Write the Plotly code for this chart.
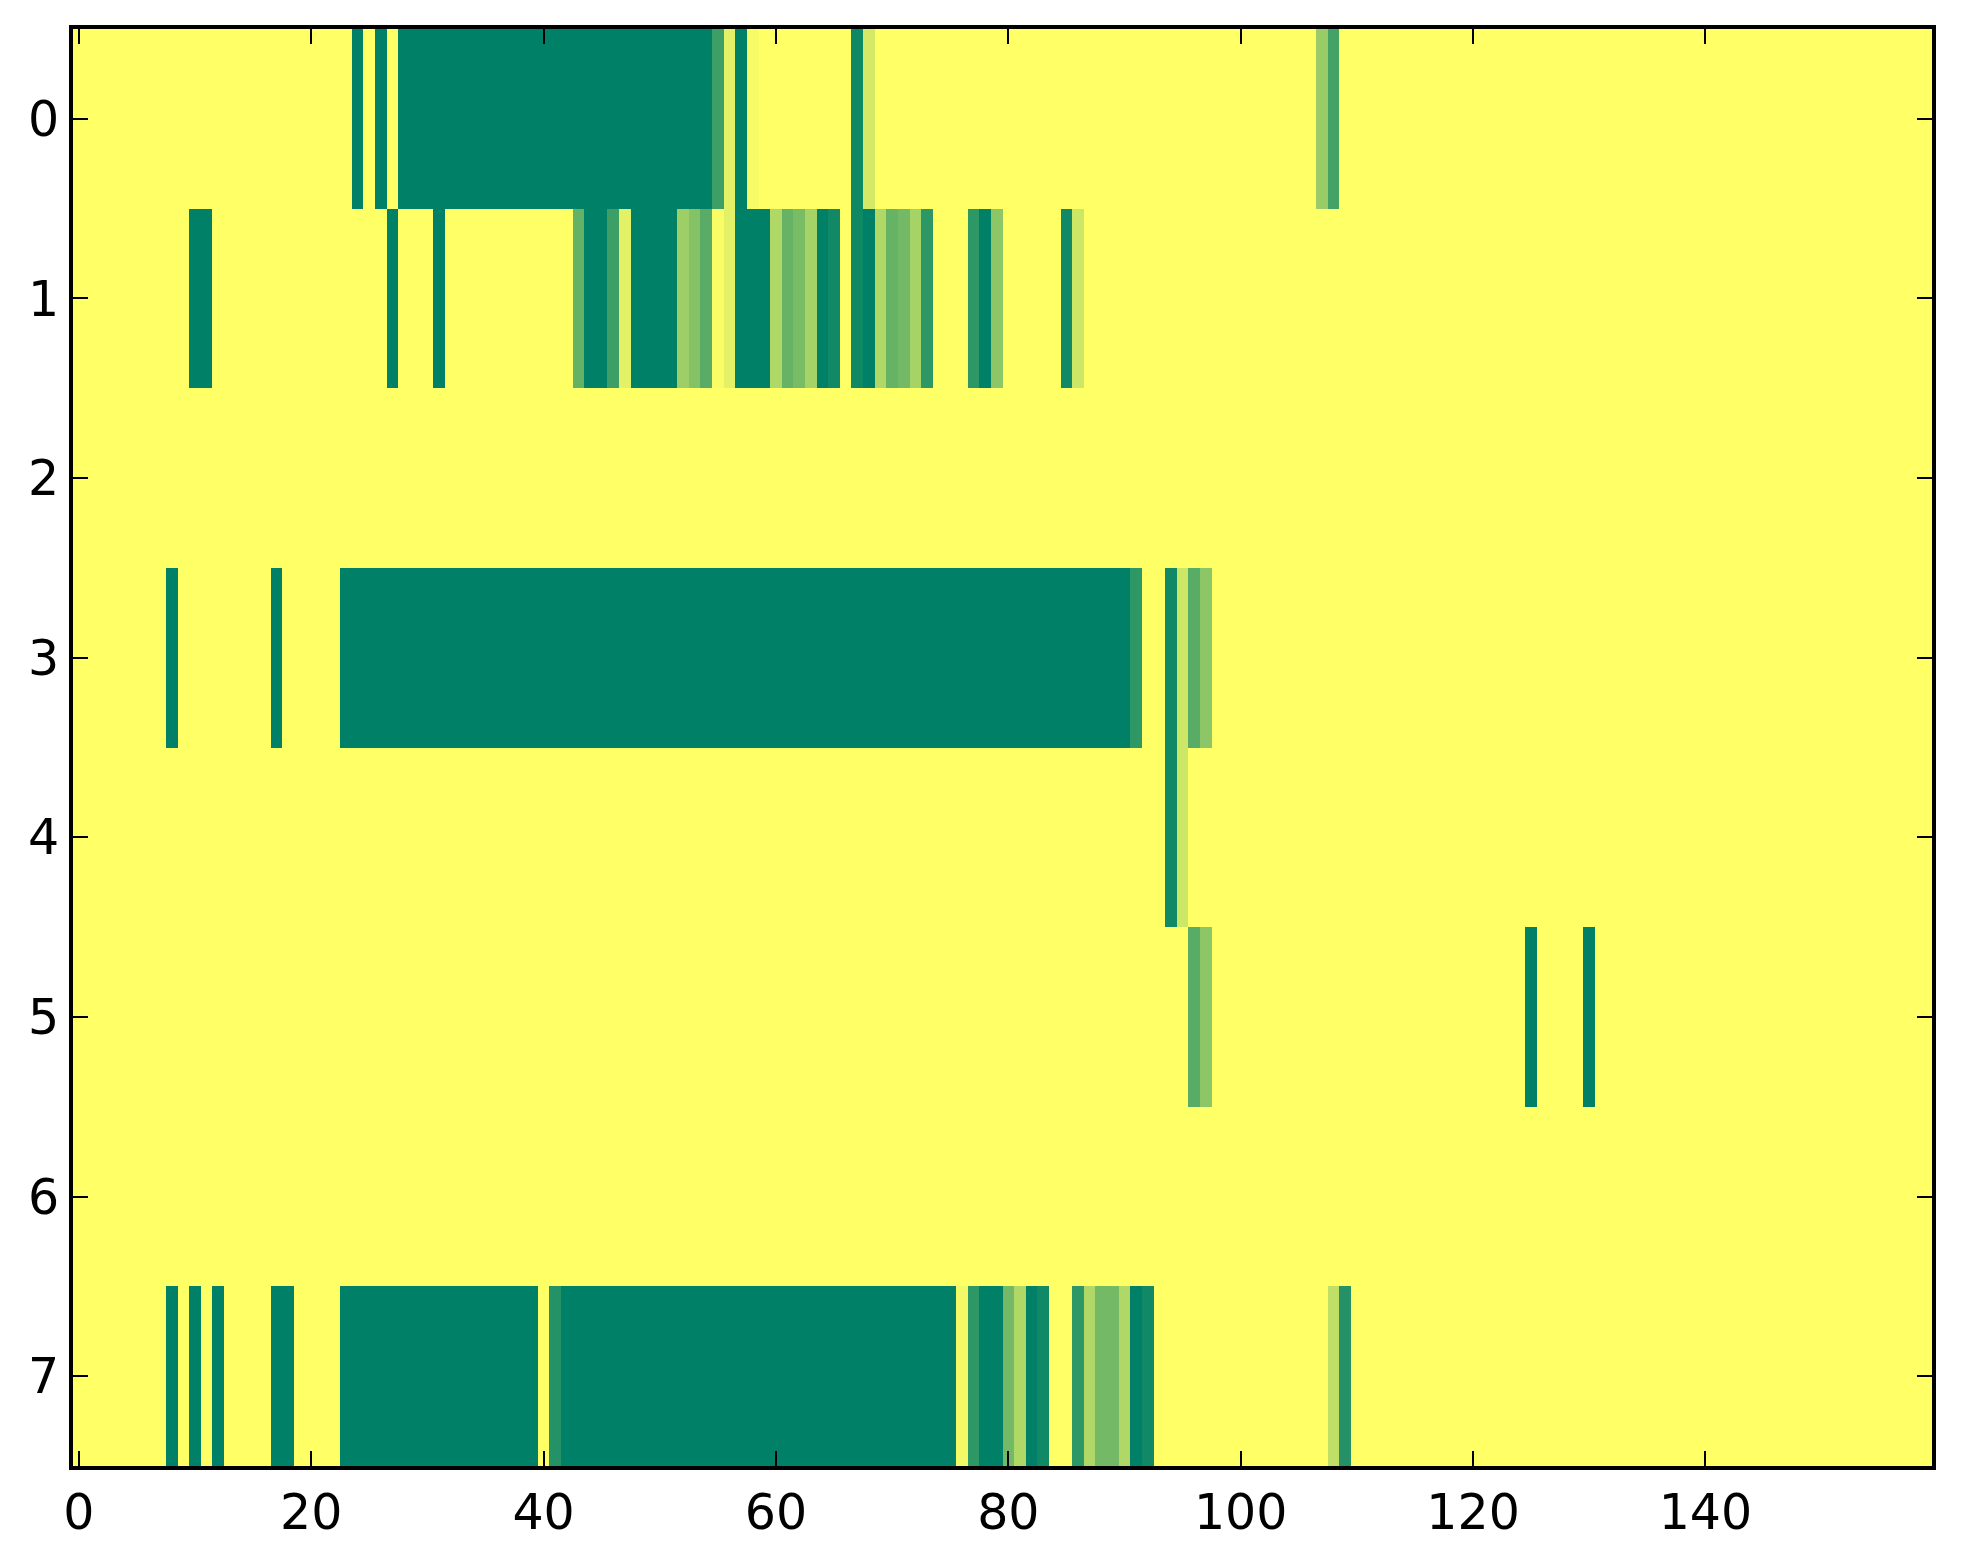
import numpy as np
import plotly.graph_objects as go

n_cols = 160
row_ids = [0, 1, 2, 3, 4, 5, 6, 7]
x_ticks = [0, 20, 40, 60, 80, 100, 120, 140]

# each row: runs of (first column, last column, level); 0 = yellow, 1 = dark green
row0 = [(24, 24, 1.0), (26, 26, 1.0), (28, 54, 1.0), (55, 55, 0.76), (56, 56, 0.11),
        (57, 57, 1.0), (58, 58, 0.03), (67, 67, 0.94), (68, 68, 0.17),
        (107, 107, 0.40), (108, 108, 0.73)]
row1 = [(10, 11, 1.0), (27, 27, 1.0), (31, 31, 1.0), (43, 43, 0.61), (44, 45, 1.0),
        (46, 46, 0.76), (47, 47, 0.11), (48, 51, 1.0), (52, 52, 0.38), (53, 53, 0.48),
        (54, 54, 0.65), (55, 55, 0.02), (56, 56, 0.11), (57, 59, 1.0), (60, 60, 0.31),
        (61, 61, 0.60), (62, 62, 0.53), (63, 63, 0.35), (64, 64, 1.0), (65, 65, 0.93),
        (67, 67, 0.94), (68, 68, 1.0), (69, 69, 0.31), (70, 70, 0.60), (71, 71, 0.55),
        (72, 72, 0.35), (73, 73, 0.82), (77, 77, 0.82), (78, 78, 1.0), (79, 79, 0.45),
        (85, 85, 0.93), (86, 86, 0.20)]
row2 = []
row3 = [(8, 8, 1.0), (17, 17, 1.0), (23, 90, 1.0), (91, 91, 0.82), (94, 94, 0.93),
        (95, 95, 0.20), (96, 96, 0.65), (97, 97, 0.45)]
row4 = [(94, 94, 0.93), (95, 95, 0.20)]
row5 = [(96, 96, 0.65), (97, 97, 0.45), (125, 125, 1.0), (130, 130, 1.0)]
row6 = []
row7 = [(8, 8, 1.0), (10, 10, 1.0), (12, 12, 1.0), (17, 18, 1.0), (23, 39, 1.0),
        (41, 41, 0.86), (42, 75, 1.0), (76, 76, 0.05), (77, 77, 0.82), (78, 79, 1.0),
        (80, 80, 0.55), (81, 81, 0.31), (82, 82, 1.0), (83, 83, 0.93), (86, 86, 0.82),
        (87, 87, 0.31), (88, 89, 0.55), (90, 90, 0.31), (91, 91, 1.0), (92, 92, 0.93),
        (108, 108, 0.25), (109, 109, 0.86)]

rows = [row0, row1, row2, row3, row4, row5, row6, row7]

grid = np.zeros((len(rows), n_cols))
for r, runs in enumerate(rows):
    for first, last, level in runs:
        grid[r, first:last + 1] = level

# matplotlib "summer", reversed so high values are green
summer_r = [[0.0, "#ffff66"], [1.0, "#008066"]]

fig = go.Figure(go.Heatmap(
    z=grid,
    x=list(range(n_cols)),
    y=row_ids,
    colorscale=summer_r,
    zmin=0, zmax=1,
    showscale=False,
    hoverongaps=False,
))

axis_style = dict(
    showline=True, linecolor="black", linewidth=4, mirror="ticks",
    ticks="inside", ticklen=15, tickwidth=2, tickcolor="black",
    showgrid=False, zeroline=False,
    tickfont=dict(family="DejaVu Sans", size=49, color="black"),
)

fig.update_xaxes(range=[-0.5, n_cols - 0.5], tickvals=x_ticks, **axis_style)
fig.update_yaxes(range=[7.5, -0.5], tickvals=row_ids, **axis_style)

# page body adds ~8px, so the figure is a bit smaller than the window
fig.update_layout(
    width=1947, height=1548,
    margin=dict(l=65, r=23, t=21, b=90),
    paper_bgcolor="white", plot_bgcolor="white",
)

fig.write_html("out.html")
